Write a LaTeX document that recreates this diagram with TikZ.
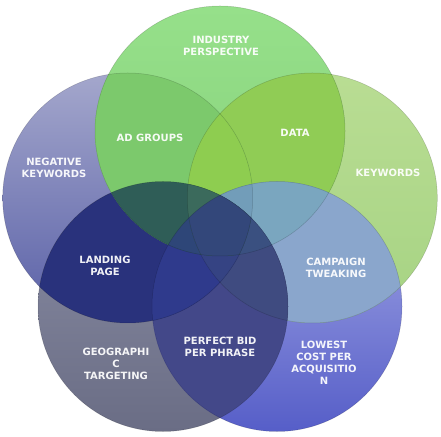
\documentclass[tikz,border=0pt]{standalone}
\usepackage{fontspec}
\setsansfont{DejaVu Sans}
\usepackage{xcolor}

% single circles
\definecolor{topA}{HTML}{96E08A}
\definecolor{topB}{HTML}{86D07B}
\definecolor{rightA}{HTML}{B9DD93}
\definecolor{rightB}{HTML}{A6D383}
\definecolor{leftA}{HTML}{A4A7CC}
\definecolor{leftB}{HTML}{5960A7}
\definecolor{blA}{HTML}{8A8DA4}
\definecolor{blB}{HTML}{6A6D85}
\definecolor{brA}{HTML}{A6AAE6}
\definecolor{brB}{HTML}{565EC8}
% overlaps
\definecolor{cTR}{HTML}{90CC55}
\definecolor{cRBR}{HTML}{8AA6CC}
\definecolor{cBRBL}{HTML}{434889}
\definecolor{cBLL}{HTML}{29327C}
\definecolor{cLT}{HTML}{7CC96C}
\definecolor{cLTR}{HTML}{8ECD50}
\definecolor{cTRBR}{HTML}{7AA6BF}
\definecolor{cRBRBL}{HTML}{3F4B80}
\definecolor{cBRBLL}{HTML}{2F3A8C}
\definecolor{cBLLT}{HTML}{2F5D57}
\definecolor{cLTRBR}{HTML}{729DB9}
\definecolor{cTRBRBL}{HTML}{3A5080}
\definecolor{cRBRBLL}{HTML}{354383}
\definecolor{cBRBLLT}{HTML}{2E4678}
\definecolor{cBLLTR}{HTML}{3B6A5C}
\definecolor{cAll}{HTML}{33477A}

\begin{document}
\begin{tikzpicture}[
    x=1pt, y=1pt,
    every node/.style={text=white, text opacity=0.93, align=center,
        font=\sffamily\bfseries\fontsize{10}{12}\selectfont},
    edge/.style={draw=black, draw opacity=0.18, line width=0.5pt}
]

\def\rad{125pt}

\useasboundingbox (0,0) rectangle (441,436);
\fill[white] (0,0) rectangle (441,436);

\coordinate (T) at (220,305);
\coordinate (R) at (312.3,238);
\coordinate (BR) at (277,129.5);
\coordinate (BL) at (163,129.5);
\coordinate (L) at (127.7,238);

% single circles
\shade[top color=leftA, bottom color=leftB] (L) circle[radius=\rad];
\shade[top color=blA, bottom color=blB] (BL) circle[radius=\rad];
\shade[top color=brA, bottom color=brB] (BR) circle[radius=\rad];
\shade[top color=rightA, bottom color=rightB] (R) circle[radius=\rad];
\shade[top color=topA, bottom color=topB] (T) circle[radius=\rad];

% pairs
\foreach \a/\b/\col in {T/R/cTR, R/BR/cRBR, BR/BL/cBRBL, BL/L/cBLL, L/T/cLT} {
  \begin{scope}
    \clip (\a) circle[radius=\rad];
    \fill[\col] (\b) circle[radius=\rad];
  \end{scope}
}

% triples
\foreach \a/\b/\c/\col in {L/T/R/cLTR, T/R/BR/cTRBR, R/BR/BL/cRBRBL,
    BR/BL/L/cBRBLL, BL/L/T/cBLLT} {
  \begin{scope}
    \clip (\a) circle[radius=\rad];
    \clip (\b) circle[radius=\rad];
    \fill[\col] (\c) circle[radius=\rad];
  \end{scope}
}

% quads
\foreach \a/\b/\c/\d/\col in {L/T/R/BR/cLTRBR, T/R/BR/BL/cTRBRBL,
    R/BR/BL/L/cRBRBLL, BR/BL/L/T/cBRBLLT, BL/L/T/R/cBLLTR} {
  \begin{scope}
    \clip (\a) circle[radius=\rad];
    \clip (\b) circle[radius=\rad];
    \clip (\c) circle[radius=\rad];
    \fill[\col] (\d) circle[radius=\rad];
  \end{scope}
}

% all five
\begin{scope}
  \clip (T) circle[radius=\rad];
  \clip (R) circle[radius=\rad];
  \clip (BR) circle[radius=\rad];
  \clip (BL) circle[radius=\rad];
  \fill[cAll] (L) circle[radius=\rad];
\end{scope}

\foreach \p in {L,BL,BR,R,T}
  \path[edge] (\p) circle[radius=\rad];

\node (ind) at (221,390) {INDUSTRY\\PERSPECTIVE};
\node (adgroups) at (150,298) {AD GROUPS};
\node (data) at (295,303) {DATA};
\node (negkw) at (54,268.5) {NEGATIVE\\KEYWORDS};
\node (kw) at (388,263) {KEYWORDS};
\node (landing) at (105,170) {LANDING\\PAGE};
\node (campaign) at (336,168.5) {CAMPAIGN\\TWEAKING};
\node (bid) at (220,89.5) {PERFECT BID\\PER PHRASE};
\node (geo) at (116,72) {GEOGRAPHI\\C\\TARGETING};
\node (lowest) at (324,73) {LOWEST\\COST PER\\ACQUISITIO\\N};

\end{tikzpicture}
\end{document}
